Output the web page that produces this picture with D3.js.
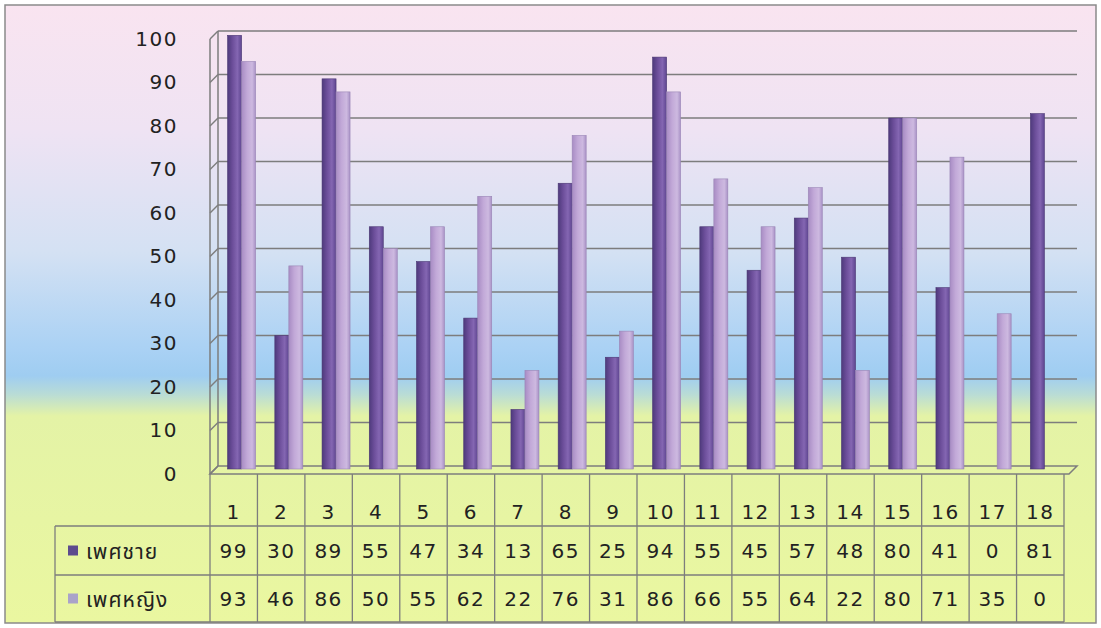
<!DOCTYPE html>
<html lang="th">
<head>
<meta charset="utf-8">
<title>เพศชาย / เพศหญิง</title>
<style type="text/css">
  body { margin: 0; background: #fff; }
  text { font-family: "DejaVu Sans", Verdana, sans-serif; fill: #222; }
  .num { font-size: 20px; letter-spacing: 1.5px; }
  .thai { font-family: "Noto Sans Thai", "Noto Sans", "DejaVu Sans", sans-serif; }
  .grid { stroke: #7d7d7d; stroke-width: 1.5; fill: none; }
  .cell { stroke: #7d7d7d; stroke-width: 1.3; fill: none; }
</style>
</head>
<body>
<script src="https://d3js.org/d3.v7.min.js"></script>
<script>

// data
var categories = ["1","2","3","4","5","6","7","8","9","10","11","12","13","14","15","16","17","18"];
var male   = [99, 30, 89, 55, 47, 34, 13, 65, 25, 94, 55, 45, 57, 48, 80, 41, 0, 81];
var female = [93, 46, 86, 50, 55, 62, 22, 76, 31, 86, 66, 55, 64, 22, 80, 71, 35, 0];
var seriesNames = ["เพศชาย", "เพศหญิง"];
var yTicks = [0, 10, 20, 30, 40, 50, 60, 70, 80, 90, 100];

var width = 1101, height = 628;
var plot = {left: 210, right: 1064, floor: 466, top: 31, dx: 8, dy: 8, wallRight: 1077};
var table = {left: 55, top: 474, head: 526, row1: 575, bottom: 622};

var svg = d3.select("body").append("svg")
    .attr("width", width)
    .attr("height", height);

var defs = svg.append("defs");

// background: pink on top, blue in the middle, yellow-green at the bottom
var bg = defs.append("linearGradient").attr("id", "bg")
    .attr("x1", 0).attr("y1", 0).attr("x2", 0).attr("y2", 1);
[[0, "#f9e4f0"], [0.2, "#efe3f3"], [0.4, "#d4e1f3"], [0.56, "#a9d1f4"], [0.6, "#9fcdf1"],
 [0.63, "#b9dcd6"], [0.665, "#e4f3a6"], [1, "#eaf7a0"]].forEach(function(s) {
  bg.append("stop").attr("offset", s[0]).attr("stop-color", s[1]);
});

var gMale = defs.append("linearGradient").attr("id", "gMale");
[[0, "#4e3a7c"], [0.35, "#6c4e9a"], [0.7, "#8466b2"], [1, "#5e4590"]].forEach(function(s) {
  gMale.append("stop").attr("offset", s[0]).attr("stop-color", s[1]);
});
var gFemale = defs.append("linearGradient").attr("id", "gFemale");
[[0, "#a88cc4"], [0.4, "#c2a9d8"], [0.75, "#cdb9e0"], [1, "#a992c6"]].forEach(function(s) {
  gFemale.append("stop").attr("offset", s[0]).attr("stop-color", s[1]);
});

svg.append("rect")
    .attr("x", 5).attr("y", 5)
    .attr("width", 1091).attr("height", 618)
    .attr("fill", "url(#bg)")
    .attr("stroke", "#8a8a8a")
    .attr("stroke-width", 1.5);

// scales (bars sit a little deeper than the table columns)
var x = d3.scaleBand().domain(categories).range([plot.left, plot.right]);
var xBar = d3.scaleBand().domain(categories).range([plot.left + 4, plot.right]);
var y = d3.scaleLinear().domain([0, 100]).range([plot.floor, plot.top]);
var yFront = d3.scaleLinear().domain([0, 100]).range([plot.floor + plot.dy, plot.top + plot.dy]);
var pairW = 28;
var xs = d3.scaleBand().domain([0, 1]).range([0, pairW]);

// walls and gridlines
var walls = svg.append("g");
walls.selectAll(".back").data(yTicks.slice(1)).enter().append("line")
    .attr("class", "grid")
    .attr("x1", plot.left + plot.dx).attr("x2", plot.wallRight)
    .attr("y1", function(d) { return y(d); })
    .attr("y2", function(d) { return y(d); });
walls.selectAll(".side").data(yTicks).enter().append("line")
    .attr("class", "grid")
    .attr("x1", plot.left).attr("x2", plot.left + plot.dx)
    .attr("y1", function(d) { return yFront(d); })
    .attr("y2", function(d) { return y(d); });
walls.append("path")
    .attr("class", "grid")
    .attr("d", "M" + plot.left + "," + yFront(0) + "V" + yFront(100) +
               "M" + (plot.left + plot.dx) + "," + y(0) + "V" + y(100));
// floor
walls.append("path")
    .attr("class", "grid")
    .attr("d", "M" + plot.left + "," + yFront(0) +
               "L" + (plot.wallRight - plot.dx) + "," + yFront(0) +
               "L" + plot.wallRight + "," + y(0) +
               "L" + (plot.left + plot.dx) + "," + y(0) + "Z");

// y axis labels
var yAxis = d3.axisLeft(yFront).tickValues(yTicks).tickSize(0).tickPadding(32);
var ya = svg.append("g")
    .attr("transform", "translate(" + plot.left + ",0)")
    .call(yAxis);
ya.select(".domain").remove();
ya.selectAll("text")
    .attr("class", "num")
    .attr("fill", "#222")
    .style("font-family", null)
    .attr("font-family", null)
    .attr("font-size", null);

// bars
var series = [male, female];
var fills = ["url(#gMale)", "url(#gFemale)"];
var bars = svg.append("g");
series.forEach(function(vals, si) {
  bars.selectAll(".s" + si).data(categories.map(function(c, i) { return {c: c, v: vals[i]}; })
      .filter(function(d) { return d.v > 0; }))
    .enter().append("rect")
      .attr("class", "s" + si)
      .attr("x", function(d) { return xBar(d.c) + (xBar.bandwidth() - pairW) / 2 + 4 + xs(si); })
      .attr("width", xs.bandwidth())
      .attr("y", function(d) { return y(d.v); })
      .attr("height", function(d) { return y(0) + 3 - y(d.v); })
      .attr("fill", fills[si])
      .attr("stroke", si === 0 ? "#4a3672" : "#9a86b6")
      .attr("stroke-width", 0.6);
});

// data table
var tbl = svg.append("g");
tbl.selectAll(".vline").data(categories).enter().append("line")
    .attr("class", "cell")
    .attr("x1", function(d) { return x(d); }).attr("x2", function(d) { return x(d); })
    .attr("y1", table.top).attr("y2", table.bottom);
tbl.append("line").attr("class", "cell")
    .attr("x1", plot.right).attr("x2", plot.right)
    .attr("y1", table.top).attr("y2", table.bottom);
[table.head, table.row1, table.bottom].forEach(function(ry) {
  tbl.append("line").attr("class", "cell")
      .attr("x1", table.left).attr("x2", plot.right)
      .attr("y1", ry).attr("y2", ry);
});
tbl.append("line").attr("class", "cell")
    .attr("x1", table.left).attr("x2", table.left)
    .attr("y1", table.head).attr("y2", table.bottom);

tbl.selectAll(".cat").data(categories).enter().append("text")
    .attr("class", "num")
    .attr("x", function(d) { return x(d) + x.bandwidth() / 2; })
    .attr("y", 519)
    .attr("text-anchor", "middle")
    .text(function(d) { return d; });

var rowMid = [(table.head + table.row1) / 2, (table.row1 + table.bottom) / 2];
var keyColors = ["#5d4b8e", "#aaa3c9"];
series.forEach(function(vals, si) {
  tbl.selectAll(".v" + si).data(vals).enter().append("text")
      .attr("class", "num")
      .attr("x", function(d, i) { return x(categories[i]) + x.bandwidth() / 2; })
      .attr("y", rowMid[si] + 7)
      .attr("text-anchor", "middle")
      .text(function(d) { return d; });
  tbl.append("rect")
      .attr("x", 68).attr("y", rowMid[si] - 5)
      .attr("width", 10).attr("height", 10)
      .attr("fill", keyColors[si]);
  tbl.append("text")
      .attr("class", "thai")
      .attr("x", 86).attr("y", rowMid[si] + 8)
      .style("font-size", "21px")
      .style("letter-spacing", "1px")
      .text(seriesNames[si]);
});

</script>
</body>
</html>
